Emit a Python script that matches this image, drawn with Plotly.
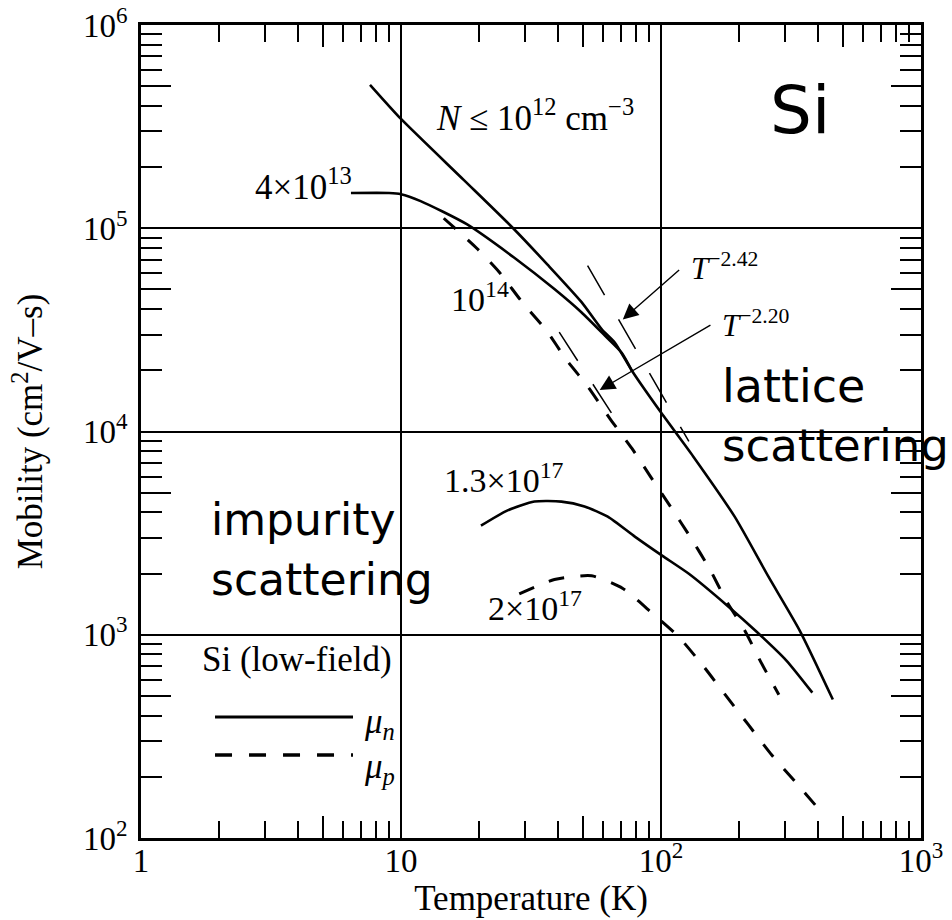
import math
import plotly.graph_objects as go

# ---------------- data ----------------
# electrons, N <= 1e12 cm^-3 (solid)
T_n12 = [7.6, 10.0, 17.5, 27.0, 36.6, 49.4, 59.2, 66.4, 77.3, 99.1, 133, 192, 259, 342, 458]
mu_n12 = [508000, 345000, 172000, 100000, 66200, 43400, 31800, 27400, 19900, 12600, 7540, 3810, 1930, 1046, 480]

# electrons, 4e13 (solid)
T_n4e13 = [6.42, 9.0, 10.0, 11.9, 17.9, 27.2, 38.9, 49.4, 60.7, 70.6, 77.3]
mu_n4e13 = [149000, 149000, 147000, 136000, 104700, 71800, 50200, 38600, 29700, 24400, 19900]

# holes, 1e14 (dashed)
T_p1e14 = [14.6, 19.6, 23.8, 29.2, 36.2, 43.3, 52.2, 63.5, 77.3, 90.6, 108.6, 129.3, 153.8, 178.2, 210.2, 243.4, 284]
mu_p1e14 = [112000, 79500, 61100, 43400, 31500, 22500, 16700, 11600, 8250, 6070, 4280, 3040, 2110, 1470, 1047, 725, 507]

# electrons, 1.3e17 (solid)
T_n13e17 = [20.3, 25.6, 32.6, 41.4, 50.8, 62.4, 79.3, 101, 128, 180, 231, 303, 382]
mu_n13e17 = [3440, 4080, 4520, 4520, 4280, 3810, 3040, 2450, 1995, 1390, 1047, 749, 519]

# holes, 2e17 (dashed)
T_p2e17 = [28.5, 38.9, 54.1, 71.3, 92.3, 116.8, 145.6, 176.5, 216, 264, 326, 400]
mu_p2e17 = [1590, 1870, 1950, 1690, 1280, 978, 700, 507, 363, 260, 191, 141]

# power-law guide lines
T_fit242 = [52.2, 128]
mu_fit242 = [65500, 8930]
T_fit220 = [40.6, 64.6]
mu_fit220 = [30800, 12300]

x_tickvals = [1, 10, 100, 1000]
x_ticktext = ["1", "10", "10<sup>2</sup>", "10<sup>3</sup>"]
y_tickvals = [1e2, 1e3, 1e4, 1e5, 1e6]
y_ticktext = ["10<sup>2</sup>", "10<sup>3</sup>", "10<sup>4</sup>", "10<sup>5</sup>", "10<sup>6</sup>"]

SERIF = "Liberation Serif"
HAND = "DejaVu Sans"

x_minor = [m * 10 ** e for e in range(3) for m in (2, 3, 4, 6, 7, 8, 9)]
y_minor = [m * 10 ** e for e in range(2, 6) for m in (2, 3, 4, 6, 7, 8, 9)]
x_five = [5, 50, 500]
y_five = [500, 5000, 50000, 500000]

fig = go.Figure()

def curve(T, mu, dash="solid", width=2.6):
    fig.add_trace(go.Scatter(x=T, y=mu, mode="lines", showlegend=False,
                             line=dict(color="black", width=width, dash=dash,
                                       shape="spline", smoothing=0.6),
                             hoverinfo="skip"))

curve(T_n12, mu_n12)
curve(T_n4e13, mu_n4e13)
curve(T_p1e14, mu_p1e14, dash="16px,16px", width=3)
curve(T_n13e17, mu_n13e17)
curve(T_p2e17, mu_p2e17, dash="16px,16px", width=3)
curve(T_fit242, mu_fit242, dash="34px,28px", width=1.5)
curve(T_fit220, mu_fit220, dash="34px,28px", width=1.5)

# empty traces for the overlay axes that carry the (mirrored) minor ticks
fig.add_trace(go.Scatter(x=[], y=[], xaxis="x2", yaxis="y2", showlegend=False))
fig.add_trace(go.Scatter(x=[], y=[], xaxis="x3", yaxis="y3", showlegend=False))

L = math.log10

def label(text, T, mu, size=34, xanchor="left", family=SERIF):
    fig.add_annotation(x=L(T), y=L(mu), xref="x", yref="y", text=text,
                       showarrow=False, xanchor=xanchor, yanchor="middle",
                       font=dict(family=family, size=size, color="black"))

label("<i>N</i> ≤ 10<sup>12</sup> cm<sup>−3</sup>", 13.4, 360000, size=35)
label("4×10<sup>13</sup>", 6.6, 165000, xanchor="right", size=35)
label("10<sup>14</sup>", 15.3, 45900)
label("1.3×10<sup>17</sup>", 14.4, 5900)
label("2×10<sup>17</sup>", 21.2, 1390)
label("<i>T</i><sup>−2.42</sup>", 128, 64800, size=31)
label("<i>T</i><sup>−2.20</sup>", 169, 34000, size=31)

label("Si", 342, 379000, size=66, xanchor="center", family=HAND)
label("lattice", 169, 16700, size=46, family=HAND)
label("scattering", 168, 8520, size=45, family=HAND)
label("impurity", 1.82, 3680, size=44, family=HAND)
label("scattering", 1.82, 1860, size=44, family=HAND)

def arrow(T_tail, mu_tail, T_head, mu_head):
    fig.add_annotation(x=L(T_head), y=L(mu_head), ax=L(T_tail), ay=L(mu_tail),
                       xref="x", yref="y", axref="x", ayref="y", text="",
                       showarrow=True, arrowhead=2, arrowsize=2.2, arrowwidth=1.4,
                       arrowcolor="black")

arrow(119, 63200, 71.3, 35600)
arrow(157, 33700, 58.1, 16000)

# key (legend) drawn in paper coordinates
fig.add_annotation(x=0.075, y=0.219, xref="paper", yref="paper", text="Si (low-field)",
                   showarrow=False, xanchor="left", yanchor="middle",
                   font=dict(family=SERIF, size=35, color="black"))
fig.add_shape(type="line", xref="paper", yref="paper", x0=0.0949, x1=0.2718, y0=0.1488, y1=0.1488,
              line=dict(color="black", width=3))
fig.add_shape(type="line", xref="paper", yref="paper", x0=0.0949, x1=0.2718, y0=0.1021, y1=0.1021,
              line=dict(color="black", width=3.5, dash="17px,17px"))
fig.add_annotation(x=0.283, y=0.141, xref="paper", yref="paper", text="<i>μ<sub>n</sub></i>",
                   showarrow=False, xanchor="left", yanchor="middle",
                   font=dict(family=SERIF, size=35, color="black"))
fig.add_annotation(x=0.283, y=0.086, xref="paper", yref="paper", text="<i>μ<sub>p</sub></i>",
                   showarrow=False, xanchor="left", yanchor="middle",
                   font=dict(family=SERIF, size=35, color="black"))

axis_common = dict(type="log", showline=True, linecolor="black", linewidth=2.5, mirror=True,
                   showgrid=True, gridcolor="black", gridwidth=1.6, ticks="",
                   zeroline=False, automargin=False,
                   tickfont=dict(family=SERIF, size=33, color="black"))

tick_common = dict(type="log", ticks="inside", tickwidth=1.5, tickcolor="black",
                   showticklabels=False, showgrid=False, showline=False, mirror="ticks",
                   zeroline=False, automargin=False)

fig.update_layout(
    width=952, height=920,
    margin=dict(l=141, r=31, t=25, b=82, autoexpand=False),
    paper_bgcolor="white", plot_bgcolor="white",
    xaxis=dict(axis_common, range=[0, 3], tickvals=x_tickvals, ticktext=x_ticktext,
               ticklabelstandoff=-8,
               title=dict(text="Temperature (K)", font=dict(family=SERIF, size=35, color="black"),
                          standoff=4)),
    yaxis=dict(axis_common, range=[2, 6], tickvals=y_tickvals, ticktext=y_ticktext,
               ticklabelstandoff=4,
               title=dict(text="Mobility (cm<sup>2</sup>/V–s)",
                          font=dict(family=SERIF, size=35, color="black"), standoff=30)),
    xaxis2=dict(tick_common, range=[0, 3], overlaying="x", anchor="y2", side="bottom",
                tickvals=x_minor, ticklen=17),
    yaxis2=dict(tick_common, range=[2, 6], overlaying="y", anchor="x2", side="left",
                tickvals=y_minor, ticklen=21),
    xaxis3=dict(tick_common, range=[0, 3], overlaying="x", anchor="y3", side="bottom",
                tickvals=x_five, ticklen=22),
    yaxis3=dict(tick_common, range=[2, 6], overlaying="y", anchor="x3", side="left",
                tickvals=y_five, ticklen=30),
)

fig.write_html("out.html", config={"displayModeBar": False},
               post_script="document.body.style.margin='0px';")
